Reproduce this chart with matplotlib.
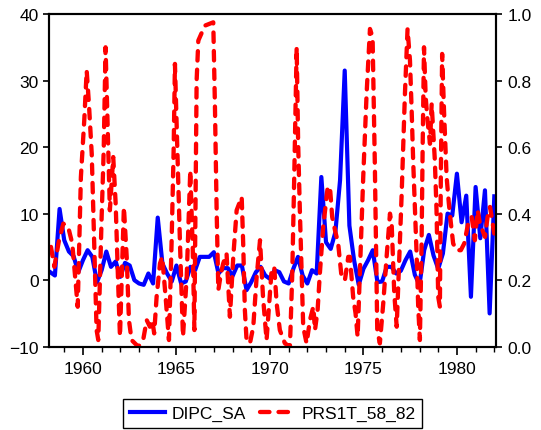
import numpy as np
import matplotlib
matplotlib.use("Agg")
import matplotlib.pyplot as plt
from matplotlib.ticker import MultipleLocator, FormatStrFormatter

plt.rcParams['font.family'] = ['Liberation Sans', 'DejaVu Sans']

# DIPC_SA: quarterly, 1958Q2 .. 1982Q1
dipc_dates = np.arange(1958.25, 1982.01, 0.25)
dipc_sa = [1.2, 0.7, 10.7, 6.0, 4.3, 3.6, 1.2, 3.0, 4.5, 3.5,
           -0.3, 1.5, 4.3, 2.0, 2.8, 0.5, 2.6, 2.2, 0.0, -0.5,
           -0.7, 1.0, -0.5, 9.4, 2.5, 1.0, -0.2, 2.2, -0.5, -0.2,
           2.0, 1.5, 3.5, 3.5, 3.5, 4.2, 1.0, 1.8, 1.8, 0.6,
           2.2, 2.2, -1.5, -0.3, 1.2, 2.0, 0.7, 0.2, 1.5, 1.2,
           -0.2, -0.5, 1.7, 3.5, 0.7, -0.5, 1.5, 1.0, 15.5, 5.7,
           4.7, 7.2, 15.0, 31.5, 8.2, 3.0, -0.7, 1.7, 3.0, 4.5,
           -0.3, -0.2, 2.0, 2.0, 1.0, 1.4, 3.0, 4.3, 0.8, -0.7,
           4.5, 6.8, 3.7, 1.7, 4.0, 10.0, 9.7, 16.0, 8.7, 12.7,
           -2.5, 14.0, 6.3, 13.5, -5.0, 12.6]

# PRS1T_58_82 (right axis)
prs_dates = [1958.29, 1958.47, 1958.72, 1958.95, 1959.21, 1959.43, 1959.61, 1959.72, 1959.89, 1960.07,
             1960.20, 1960.32, 1960.47, 1960.60, 1960.73, 1960.82, 1961.00, 1961.11, 1961.21, 1961.32,
             1961.44, 1961.62, 1961.75, 1961.86, 1961.98, 1962.19, 1962.34, 1962.46, 1962.60, 1962.96,
             1963.22, 1963.41, 1963.58, 1963.71, 1963.81, 1963.94, 1964.12, 1964.24, 1964.42, 1964.60,
             1964.74, 1964.85, 1964.92, 1965.04, 1965.19, 1965.35, 1965.55, 1965.74, 1965.87, 1965.96,
             1966.08, 1966.17, 1966.52, 1966.97, 1967.06, 1967.15, 1967.24, 1967.38, 1967.50, 1967.68,
             1967.86, 1968.04, 1968.22, 1968.49, 1968.57, 1968.66, 1968.75, 1968.93, 1969.11, 1969.29,
             1969.47, 1969.63, 1969.82, 1970.09, 1970.23, 1970.36, 1970.53, 1970.80, 1971.07, 1971.19,
             1971.30, 1971.43, 1971.51, 1971.60, 1971.70, 1971.78, 1971.96, 1972.14, 1972.32, 1972.41,
             1972.55, 1972.67, 1972.85, 1973.09, 1973.21, 1973.33, 1973.48, 1973.65, 1973.83, 1974.01,
             1974.19, 1974.28, 1974.45, 1974.58, 1974.69, 1974.99, 1975.17, 1975.35, 1975.49, 1975.61,
             1975.70, 1975.74, 1975.88, 1976.06, 1976.24, 1976.42, 1976.51, 1976.65, 1976.78, 1977.04,
             1977.22, 1977.36, 1977.49, 1977.58, 1977.66, 1977.85, 1977.93, 1978.02, 1978.11, 1978.17,
             1978.24, 1978.33, 1978.43, 1978.56, 1978.65, 1978.82, 1978.91, 1979.00, 1979.09, 1979.14,
             1979.21, 1979.31, 1979.45, 1979.57, 1979.68, 1979.80, 1979.98, 1980.21, 1980.39, 1980.60,
             1980.79, 1980.96, 1981.11, 1981.23, 1981.50, 1981.64, 1981.77, 1982.00]
prs1t = [0.30, 0.24, 0.32, 0.37, 0.36, 0.31, 0.19, 0.12, 0.51, 0.68,
         0.83, 0.73, 0.58, 0.31, 0.05, 0.02, 0.39, 0.59, 0.90, 0.66,
         0.41, 0.57, 0.43, 0.23, 0.03, 0.42, 0.27, 0.08, 0.02, 0.00,
         0.02, 0.08, 0.06, 0.08, 0.04, 0.15, 0.25, 0.27, 0.15, 0.02,
         0.31, 0.59, 0.85, 0.61, 0.31, 0.03, 0.21, 0.53, 0.30, 0.05,
         0.80, 0.92, 0.965, 0.975, 0.72, 0.41, 0.17, 0.22, 0.25, 0.28,
         0.09, 0.27, 0.41, 0.45, 0.31, 0.11, 0.02, 0.01, 0.06, 0.21,
         0.32, 0.15, 0.02, 0.23, 0.24, 0.13, 0.05, 0.01, 0.00, 0.21,
         0.51, 0.90, 0.61, 0.41, 0.21, 0.06, 0.01, 0.08, 0.12, 0.05,
         0.11, 0.22, 0.36, 0.48, 0.48, 0.39, 0.35, 0.31, 0.21, 0.20,
         0.27, 0.27, 0.15, 0.10, 0.03, 0.51, 0.76, 0.955, 0.93, 0.55,
         0.21, 0.05, 0.01, 0.13, 0.27, 0.40, 0.37, 0.16, 0.06, 0.45,
         0.76, 0.955, 0.86, 0.71, 0.56, 0.27, 0.12, 0.02, 0.31, 0.61,
         0.90, 0.75, 0.68, 0.61, 0.73, 0.56, 0.41, 0.15, 0.12, 0.51,
         0.88, 0.71, 0.51, 0.43, 0.37, 0.31, 0.29, 0.29, 0.31, 0.37,
         0.39, 0.32, 0.41, 0.37, 0.33, 0.39, 0.42, 0.34]

year_ticks = [1960, 1965, 1970, 1975, 1980]
left_ticks = [-10, 0, 10, 20, 30, 40]
right_ticks = [0.0, 0.2, 0.4, 0.6, 0.8, 1.0]

fs = 12.5
fig = plt.figure(figsize=(5.41, 4.31), dpi=100)
ax = fig.add_axes([0.0911, 0.1933, 0.9168 - 0.0911, 0.9652 - 0.1933])
ax2 = ax.twinx()

l1, = ax.plot(dipc_dates, dipc_sa, color='#0000ff', lw=3.0, solid_joinstyle='round',
              label='DIPC_SA')
l2, = ax2.plot(prs_dates, prs1t, color='#ff0000', lw=3.1, dash_capstyle='round',
               dash_joinstyle='round', linestyle=(0, (2.2, 2.1)), label='PRS1T_58_82')

ax.set_xlim(1958.2, 1982.09)
ax.set_ylim(-10, 40)
ax2.set_ylim(0, 1)
ax.set_yticks(left_ticks)
ax2.set_yticks(right_ticks)
ax2.yaxis.set_major_formatter(FormatStrFormatter('%.1f'))
ax.set_xticks(year_ticks)
ax.xaxis.set_minor_locator(MultipleLocator(1))

for a in (ax, ax2):
    for s in a.spines.values():
        s.set_linewidth(1.5)
        s.set_color('black')
ax.tick_params(axis='y', direction='out', length=4.5, width=1.2, pad=3, labelsize=fs)
ax2.tick_params(axis='y', direction='out', length=4.5, width=1.2, pad=4, labelsize=fs)
ax.tick_params(axis='x', which='major', direction='out', length=6, width=1.2, pad=4.5, labelsize=fs)
ax.tick_params(axis='x', which='minor', direction='out', length=3.5, width=1.0)

leg = fig.legend(handles=[l1, l2], loc='center', bbox_to_anchor=(0.504, 0.038), ncol=2,
                 fontsize=fs, frameon=True, fancybox=False, framealpha=1, edgecolor='black',
                 handlelength=2.0, handletextpad=0.4, columnspacing=0.8, borderpad=0.4,
                 borderaxespad=0)
leg.get_frame().set_linewidth(1.0)

fig.savefig('out.png', dpi=100)
